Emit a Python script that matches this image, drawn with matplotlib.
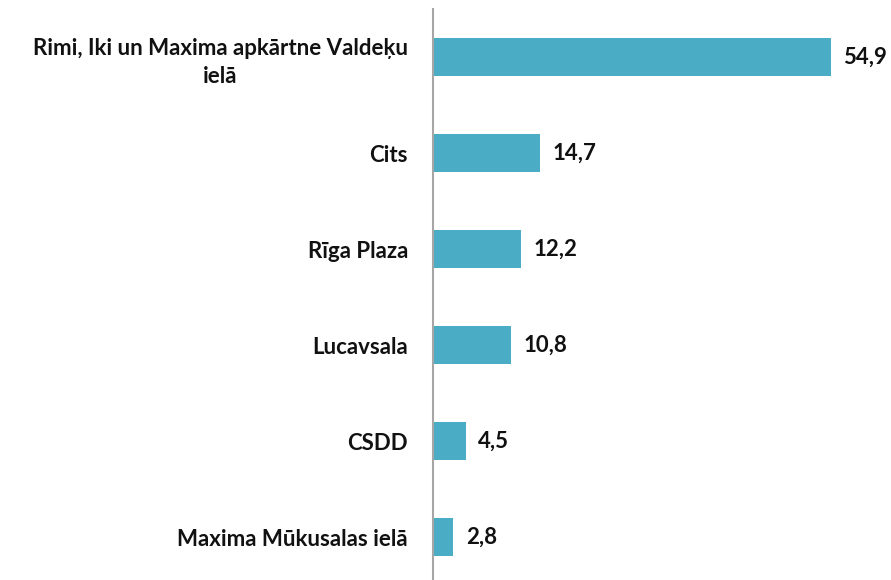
import matplotlib
matplotlib.use("Agg")
import matplotlib.pyplot as plt

# dati
vietas = ["Rimi, Iki un Maxima apkārtne Valdeķu\nielā", "Cits", "Rīga Plaza",
          "Lucavsala", "CSDD", "Maxima Mūkusalas ielā"]
vertibas = [54.9, 14.7, 12.2, 10.8, 4.5, 2.8]
etiketes = ["54,9", "14,7", "12,2", "10,8", "4,5", "2,8"]

plt.rcParams['font.family'] = ['Lato', 'DejaVu Sans']

fig = plt.figure(figsize=(8.91, 5.8), dpi=100)
ax = fig.add_axes([433/891, -5/580, 458/891, 576/580])

y = list(range(len(vietas)))
ax.barh(y, vertibas, height=0.39, color="#4BACC6")
ax.set_ylim(len(vietas) - 0.5, -0.5)
ax.set_xlim(0, 458/7.25)

for i, v in enumerate(vertibas):
    ax.annotate(etiketes[i], (v, i), xytext=(9, 0), textcoords="offset points",
                va="center", ha="left", fontsize=16, fontweight="bold",
                color="#111111")

ax.set_yticks(y)
ax.set_yticklabels(vietas, fontsize=16, fontweight="bold", color="#111111",
                   multialignment="center", linespacing=1.4)
ax.tick_params(axis="y", length=0, pad=18)
ax.set_xticks([])
for s in ["top", "right", "bottom"]:
    ax.spines[s].set_visible(False)
ax.spines["left"].set_color("#a6a6a6")
ax.spines["left"].set_linewidth(1.5)

fig.savefig("out.png", dpi=100)
